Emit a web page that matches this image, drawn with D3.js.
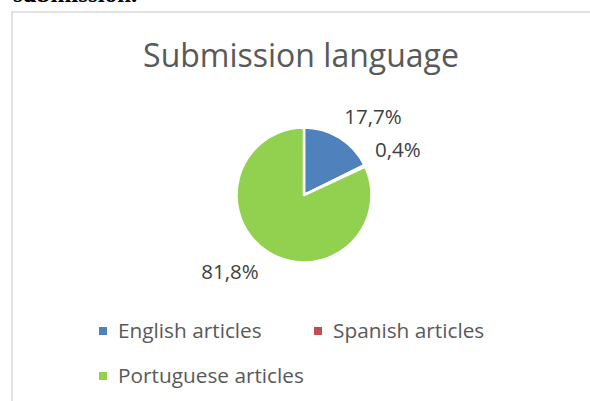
<!DOCTYPE html>
<html>
<head>
<meta charset="utf-8">
<script src="https://cdn.jsdelivr.net/npm/d3@7"></script>
<style>
  body { margin: 0; background: #fff; }
  svg { display: block; }
</style>
</head>
<body>
<svg id="chart"></svg>
<script>
// values
var categories = ["English articles", "Spanish articles", "Portuguese articles"]
var shares = [17.7, 0.4, 81.8]
var labels = ["17,7%", "0,4%", "81,8%"]
var colors = ["#4f81bd", "#c0504d", "#92d050"]

var dimensions = {
    width: 590,
    height: 401,
    cx: 304,
    cy: 195,
    radius: 67.5,
    labelRadius: 104
}

var svg = d3.select("#chart")
    .attr("width", dimensions.width)
    .attr("height", dimensions.height)

// bit of the document text peeking in above the chart
svg.append("text")
    .attr("x", 13)
    .attr("y", 2)
    .attr("font-family", "Liberation Serif")
    .attr("font-weight", "bold")
    .attr("font-size", 25)
    .attr("fill", "#000")
    .text("submission.")

// chart frame
svg.append("rect")
    .attr("x", 12)
    .attr("y", 12)
    .attr("width", dimensions.width)
    .attr("height", dimensions.height)
    .attr("fill", "#fff")
    .attr("stroke", "#d9d9d9")
    .attr("stroke-width", 1.5)

svg.append("text")
    .attr("x", 301)
    .attr("y", 67)
    .attr("text-anchor", "middle")
    .attr("font-family", "Open Sans")
    .attr("font-size", 32)
    .attr("fill", "#595959")
    .text("Submission language")

var pie = d3.pie().sort(null).value(d => d)
var arcs = pie(shares)

var arcGen = d3.arc().innerRadius(0).outerRadius(dimensions.radius)
var labelArc = d3.arc().innerRadius(dimensions.labelRadius).outerRadius(dimensions.labelRadius)

var pieGroup = svg.append("g")
    .attr("transform", `translate(${dimensions.cx},${dimensions.cy})`)

pieGroup.selectAll(".slice")
    .data(arcs)
    .enter()
    .append("path")
    .attr("class", "slice")
    .attr("d", arcGen)
    .attr("fill", (d, i) => colors[i])
    .attr("stroke", "#fff")
    .attr("stroke-width", 2.5)
    .attr("stroke-linejoin", "round")

// best-fit nudges like excel does
var nudge = [[14, 10], [0, 0], [-18, -11]]

pieGroup.selectAll(".pct")
    .data(arcs)
    .enter()
    .append("text")
    .attr("class", "pct")
    .attr("x", (d, i) => labelArc.centroid(d)[0] + nudge[i][0])
    .attr("y", (d, i) => labelArc.centroid(d)[1] + nudge[i][1])
    .attr("dy", "0.35em")
    .attr("text-anchor", "middle")
    .attr("font-family", "Open Sans")
    .attr("font-size", 20.5)
    .attr("fill", "#404040")
    .text((d, i) => labels[i])

var legendPos = [[99, 331], [314, 331], [99, 376]]

var legend = svg.selectAll(".legend")
    .data(categories)
    .enter()
    .append("g")
    .attr("class", "legend")
    .attr("transform", (d, i) => `translate(${legendPos[i][0]},${legendPos[i][1]})`)

legend.append("rect")
    .attr("x", 0)
    .attr("y", -4)
    .attr("width", 8)
    .attr("height", 8)
    .attr("fill", (d, i) => colors[i])

legend.append("text")
    .attr("x", 19)
    .attr("y", 0)
    .attr("dy", "0.35em")
    .attr("font-family", "Open Sans")
    .attr("font-size", 20.8)
    .attr("fill", "#595959")
    .text(d => d)
</script>
</body>
</html>
